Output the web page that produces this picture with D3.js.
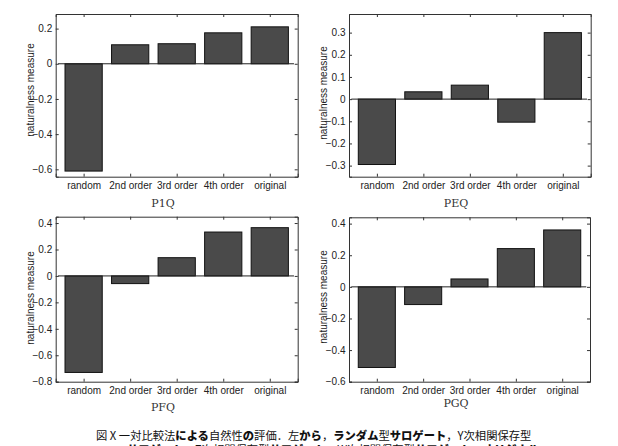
<!DOCTYPE html>
<html><head><meta charset="utf-8">
<script src="https://cdn.jsdelivr.net/npm/d3@7"></script>
<style>body{margin:0;background:#fff}svg{display:block}</style>
</head><body>
<svg id="c" width="618" height="446"></svg>
<script>
const categories = ["random", "2nd order", "3rd order", "4th order", "original"];
const valuesA = [-0.61, 0.108, 0.114, 0.176, 0.21];
const valuesB = [-0.295, 0.033, 0.063, -0.104, 0.30];
const valuesC = [-0.73, -0.058, 0.138, 0.332, 0.365];
const valuesD = [-0.51, -0.112, 0.05, 0.242, 0.36];
const ticksA = [-0.6, -0.4, -0.2, 0, 0.2];
const ticksB = [-0.3, -0.2, -0.1, 0, 0.1, 0.2, 0.3];
const ticksC = [-0.8, -0.6, -0.4, -0.2, 0, 0.2, 0.4];
const ticksD = [-0.6, -0.4, -0.2, 0, 0.2, 0.4];
const panelLabels = ["P1Q", "PEQ", "PFQ", "PGQ"];
const yLabel = "naturalness measure";

const panels = [
  {vals: valuesA, ticks: ticksA, dom: [-0.642, 0.283], L: 55.7, R: 297.7, T: 14, B: 176.7, lx: 163, ly: 207, ylx: 30, yly: 90},
  {vals: valuesB, ticks: ticksB, dom: [-0.35, 0.384], L: 349, R: 590.7, T: 14, B: 176.7, lx: 456, ly: 207, ylx: 323.5, yly: 93},
  {vals: valuesC, ticks: ticksC, dom: [-0.8, 0.448], L: 55.7, R: 297.7, T: 216.7, B: 381.7, lx: 163, ly: 411, ylx: 30, yly: 298},
  {vals: valuesD, ticks: ticksD, dom: [-0.6, 0.44], L: 349, R: 590, T: 217.3, B: 381.7, lx: 456, ly: 407, ylx: 323.5, yly: 297}
];

const svg = d3.select("#c");
const fontSans = "'Liberation Sans', Arial, Helvetica, sans-serif";

panels.forEach((p, i) => {
  const g = svg.append("g");
  const x = d3.scaleLinear().domain([0.4, 5.6]).range([p.L, p.R]);
  const y = d3.scaleLinear().domain(p.dom).range([p.B, p.T]);
  const idx = categories.map((c, k) => k + 1);

  // bars
  g.selectAll("rect.bar").data(p.vals).enter().append("rect")
    .attr("x", (d, k) => x(k + 1 - 0.4))
    .attr("width", x(1.8) - x(1))
    .attr("y", d => y(Math.max(0, d)))
    .attr("height", d => Math.abs(y(d) - y(0)))
    .attr("fill", "#4a4a4a").attr("stroke", "#111").attr("stroke-width", 1);

  // baseline
  g.append("line").attr("x1", x(0.45)).attr("x2", x(5.52))
    .attr("y1", y(0)).attr("y2", y(0)).attr("stroke", "#222").attr("stroke-width", 1);

  // axes
  const yAxisL = d3.axisLeft(y).tickValues(p.ticks).tickSize(-3).tickPadding(3.5)
    .tickFormat(d => d === 0 ? "0" : d3.format("")(+d.toFixed(1)));
  const ay = g.append("g").attr("transform", `translate(${p.L},0)`).call(yAxisL);
  const yAxisR = d3.axisRight(y).tickValues(p.ticks).tickSize(-3).tickFormat("");
  const ayr = g.append("g").attr("transform", `translate(${p.R},0)`).call(yAxisR);
  const xAxisB = d3.axisBottom(x).tickValues(idx).tickSize(-3).tickPadding(5.5)
    .tickFormat(d => categories[d - 1]);
  const ax = g.append("g").attr("transform", `translate(0,${p.B})`).call(xAxisB);
  const xAxisT = d3.axisTop(x).tickValues(idx).tickSize(-3).tickFormat("");
  const axt = g.append("g").attr("transform", `translate(0,${p.T})`).call(xAxisT);
  [ay, ayr, ax, axt].forEach(a => {
    a.select(".domain").attr("stroke", "#333");
    a.selectAll(".tick line").attr("stroke", "#333");
    a.selectAll("text").attr("fill", "#222").style("font-family", fontSans).style("font-size", "10px");
  });

  // y label
  g.append("text").attr("transform", `translate(${p.ylx},${p.yly}) rotate(-90)`)
    .attr("text-anchor", "middle").attr("dy", "0.35em")
    .style("font-family", fontSans).style("font-size", "10px").attr("fill", "#222")
    .text(yLabel);

  // panel label
  g.append("text").attr("x", p.lx).attr("y", p.ly).attr("text-anchor", "middle")
    .style("font-family", "'DejaVu Serif', 'Liberation Serif', serif").style("font-size", "11px")
    .attr("fill", "#333").text(panelLabels[i]);
});

// caption
const cap1 = [
  ["図 X  一対比較法", false], ["による", true], ["自然性", false], ["の", true], ["評価．左", false],
  ["から", true], ["，", false], ["ランダム", true], ["型", false], ["サロゲート", true], ["，Y次相関保存型", false]
];
const cap2 = [
  ["サロゲート", true], ["，Z次相関保存型", false], ["サロゲート", true], ["，W次相関保存型", false],
  ["サロゲート", true], ["，", false], ["オリジナル", true]
];
const capFont = "'Noto Sans CJK JP', sans-serif";
function caption(parts, xx, yy) {
  const t = svg.append("text").attr("x", xx).attr("y", yy)
    .style("font-family", capFont).style("font-size", "11.3px").attr("fill", "#111");
  t.selectAll("tspan").data(parts).enter().append("tspan")
    .style("font-weight", d => d[1] ? "900" : "400").text(d => d[0]);
}
caption(cap1, 96, 440);
caption(cap2, 127, 453.5);
</script>
</body></html>
